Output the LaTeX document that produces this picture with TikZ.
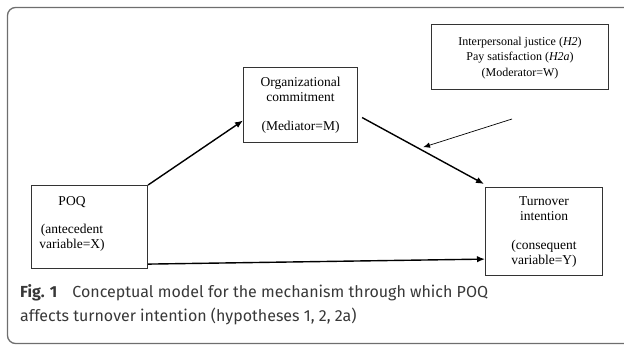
\documentclass[tikz,border=0pt]{standalone}
\usepackage{fontspec}
\setmainfont{Liberation Serif}
\newfontfamily\capfont{Fira Sans}
\usetikzlibrary{arrows.meta,calc}
\definecolor{framegray}{HTML}{6E6E6E}
\definecolor{boxline}{HTML}{333333}
\definecolor{captext}{HTML}{383838}
\begin{document}
\begin{tikzpicture}[x=1pt,y=-1pt,
  varbox/.style={draw=boxline,line width=1.1pt,rectangle,inner sep=0pt,anchor=north west},
  boxtext/.style={font=\fontsize{13.5}{15.5}\selectfont,align=center,inner sep=0pt,text=black},
  modtext/.style={font=\fontsize{12}{15.5}\selectfont,align=center,inner sep=0pt,text=black},
  captext/.style={anchor=base west,inner sep=0pt,text=captext,font=\capfont\fontsize{16}{24}\selectfont},
  mainarrow/.style={line width=1.4pt,-{Latex[length=8pt,width=6.5pt]}},
  thinarrow/.style={line width=0.7pt,-{Latex[length=7pt,width=5.5pt]}}]
\useasboundingbox (0,0) rectangle (624,345);
\clip (0,0) rectangle (624,345);
\draw[framegray,line width=1.3pt,rounded corners=8pt] (7.5,7.5) rectangle (640,343.5);
% boxes
\node[varbox,minimum width=116pt,minimum height=83pt] (poq) at (31,185) {};
\node[varbox,minimum width=114pt,minimum height=75pt] (org) at (243,67) {};
\node[varbox,minimum width=117pt,minimum height=88pt] (turn) at (485,187) {};
\node[varbox,minimum width=177pt,minimum height=65pt] (mod) at (431,24) {};
% texts
\node[boxtext] (poqtext) at (72,224) {POQ\\[12pt](antecedent\\variable=X)};
\node[boxtext] (orgtext) at (org.center) {Organizational\\commitment\\[13pt](Mediator=M)};
\node[boxtext] (turntext) at ([yshift=-0.5pt]turn.center) {Turnover\\intention\\[13pt](consequent\\variable=Y)};
\node[modtext] (modtext) at ([yshift=-1pt]mod.center) {Interpersonal justice (\textit{H2})\\Pay satisfaction (\textit{H2a})\\(Moderator=W)};
% connectors
\coordinate (orgout) at ([xshift=4pt,yshift=-12.5pt]org.east);
\coordinate (modstart) at (512,119);
\draw[mainarrow] (poq.north east) -- ([yshift=-15.5pt]org.west);
\draw[mainarrow] (orgout) -- ([xshift=-1pt,yshift=3pt]turn.north west);
\draw[mainarrow] ([yshift=5pt]poq.south east) -- ([yshift=17pt]turn.south west);
\coordinate (modend) at ($(orgout)!0.5!([xshift=-1pt,yshift=3pt]turn.north west)+(0,-3.5)$);
\draw[thinarrow] (modstart) -- (modend);
% caption
\node[captext] (cap1) at (20,297) {\textbf{Fig. 1}\hspace{0.95em}Conceptual model for the mechanism through which POQ};
\node[captext] (cap2) at (20,321) {affects turnover intention (hypotheses 1, 2, 2a)};
\end{tikzpicture}
\end{document}
